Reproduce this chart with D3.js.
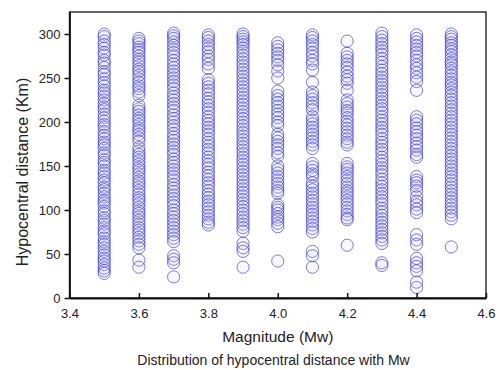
<!DOCTYPE html>
<html>
<head>
<meta charset="utf-8">
<script src="https://cdn.jsdelivr.net/npm/d3@7/dist/d3.min.js"></script>
<style>
  body { margin: 0; background: #fff; }
  svg text { font-family: "Liberation Sans", Arial, sans-serif; fill: #222; }
</style>
</head>
<body>
<div id="chart"></div>
<script>
// magnitude columns
const magnitudes = [3.5, 3.6, 3.7, 3.8, 3.9, 4.0, 4.1, 4.2, 4.3, 4.4, 4.5];

// hypocentral distances (km) read per magnitude
const dist35 = [300, 297, 292, 288, 284, 279, 276, 270, 267, 262, 257, 254, 249, 245, 241, 236, 233, 229, 225, 221, 217, 214, 209, 205, 201, 197, 194, 189, 185, 181, 177, 174, 170, 165, 162, 157, 154, 150, 145, 142, 138, 134, 131, 126, 123, 119, 115, 111, 108, 104, 99, 96, 91, 88, 84, 80, 76, 73, 68, 64, 61, 57, 53, 49, 45, 42, 38, 34, 31, 28];
const dist36 = [295, 292, 289, 285, 282, 279, 275, 271, 268, 264, 260, 257, 253, 249, 245, 241, 238, 234, 230, 219, 215, 212, 208, 204, 201, 197, 193, 190, 186, 182, 178, 171, 167, 163, 160, 156, 152, 148, 145, 141, 137, 133, 130, 126, 122, 118, 114, 111, 107, 103, 99, 96, 92, 88, 84, 80, 77, 73, 69, 65, 61, 57, 43, 35];
const dist37 = [301, 298, 295, 291, 287, 283, 279, 275, 270, 266, 262, 258, 254, 250, 246, 242, 238, 233, 229, 225, 221, 217, 213, 208, 204, 200, 196, 192, 187, 183, 179, 175, 171, 167, 163, 158, 154, 150, 146, 142, 138, 134, 129, 125, 121, 117, 113, 109, 105, 100, 96, 92, 88, 84, 80, 76, 72, 68, 64, 48, 44, 40, 24];
const dist38 = [299, 296, 292, 288, 284, 280, 275, 271, 266, 261, 248, 244, 240, 236, 232, 227, 223, 219, 215, 211, 206, 202, 198, 194, 190, 186, 181, 177, 173, 169, 165, 160, 156, 152, 148, 143, 139, 135, 131, 127, 122, 118, 114, 110, 106, 102, 98, 94, 90, 86, 83];
const dist39 = [300, 297, 294, 291, 288, 284, 280, 276, 272, 268, 264, 260, 256, 252, 248, 244, 240, 236, 232, 228, 224, 220, 216, 212, 208, 204, 200, 196, 192, 188, 184, 180, 176, 172, 168, 164, 160, 156, 152, 148, 144, 140, 136, 132, 128, 124, 120, 116, 112, 108, 104, 100, 96, 92, 88, 84, 80, 76, 62, 57, 53, 35];
const dist40 = [290, 286, 282, 278, 274, 270, 265, 258, 250, 235, 230, 226, 222, 218, 213, 209, 205, 200, 196, 186, 182, 178, 174, 170, 165, 161, 150, 146, 142, 138, 134, 130, 126, 122, 119, 106, 103, 100, 96, 92, 89, 85, 81, 42];
const dist41 = [299, 296, 292, 288, 284, 279, 275, 270, 266, 259, 245, 234, 230, 226, 222, 218, 214, 206, 202, 198, 194, 190, 186, 182, 178, 174, 170, 153, 149, 145, 141, 138, 131, 127, 123, 119, 115, 111, 107, 103, 99, 95, 91, 87, 83, 79, 75, 53, 48, 35];
const dist42 = [292, 278, 274, 270, 266, 262, 257, 252, 248, 244, 236, 225, 221, 217, 213, 210, 205, 201, 197, 193, 189, 185, 181, 177, 174, 153, 149, 146, 142, 138, 134, 130, 126, 122, 119, 115, 111, 107, 103, 99, 95, 91, 89, 60];
const dist43 = [301, 297, 293, 289, 285, 281, 277, 272, 268, 263, 259, 255, 251, 247, 243, 239, 235, 231, 227, 223, 219, 215, 211, 206, 202, 198, 194, 190, 186, 181, 177, 173, 169, 165, 160, 156, 152, 148, 144, 140, 135, 131, 127, 123, 119, 115, 111, 107, 102, 98, 94, 90, 86, 82, 78, 74, 70, 66, 62, 40, 37];
const dist44 = [299, 295, 291, 287, 283, 279, 275, 270, 265, 261, 256, 251, 246, 236, 206, 202, 198, 193, 189, 185, 181, 176, 172, 168, 163, 160, 138, 134, 131, 127, 122, 115, 110, 106, 101, 97, 72, 66, 61, 45, 40, 36, 31, 18, 12];
const dist45 = [300, 297, 294, 290, 287, 283, 280, 276, 272, 268, 265, 261, 257, 253, 249, 245, 242, 238, 234, 230, 226, 222, 218, 214, 210, 206, 202, 198, 194, 190, 186, 182, 178, 174, 170, 166, 162, 158, 154, 150, 146, 142, 138, 134, 130, 126, 122, 118, 114, 110, 106, 102, 98, 94, 90, 58];

const distances = [dist35, dist36, dist37, dist38, dist39, dist40, dist41, dist42, dist43, dist44, dist45];

const xTicks = [3.4, 3.6, 3.8, 4.0, 4.2, 4.4, 4.6];
const yTicks = [0, 50, 100, 150, 200, 250, 300];

const width = 501, height = 370;
const margin = { top: 12, right: 15, bottom: 72, left: 69.5 };

const points = [];
magnitudes.forEach((m, i) => distances[i].forEach(d => points.push({ m: m, d: d })));

const x = d3.scaleLinear([3.4, 4.6], [margin.left, width - margin.right]);
const y = d3.scaleLinear([0, 325], [height - margin.bottom, margin.top]);

const svg = d3.select('#chart')
  .append('svg')
  .attr('width', width)
  .attr('height', height)
  .attr('viewBox', `0 0 ${width} ${height}`);

// points
svg.append('g')
  .selectAll('circle')
  .data(points)
  .enter()
  .append('circle')
  .attr('cx', p => x(p.m))
  .attr('cy', p => y(p.d))
  .attr('r', 6.1)
  .attr('fill', 'rgba(200,200,240,0.12)')
  .attr('stroke', '#2626d0')
  .attr('stroke-opacity', 0.6)
  .attr('stroke-width', 1);

// frame
svg.append('rect')
  .attr('x', x(3.4))
  .attr('y', y(325))
  .attr('width', x(4.6) - x(3.4))
  .attr('height', y(0) - y(325))
  .attr('fill', 'none')
  .attr('stroke', '#222')
  .attr('stroke-width', 1.4);

const xAxis = svg.append('g')
  .attr('transform', `translate(0,${y(0)})`)
  .call(d3.axisBottom(x).tickValues(xTicks).tickFormat(d3.format('.1f'))
    .tickSize(-5).tickSizeOuter(0).tickPadding(11));

const yAxis = svg.append('g')
  .attr('transform', `translate(${x(3.4)},0)`)
  .call(d3.axisLeft(y).tickValues(yTicks).tickSize(5).tickSizeOuter(0).tickPadding(4));

[xAxis, yAxis].forEach(a => {
  a.select('.domain').attr('stroke', '#111').attr('stroke-width', 1.8);
  a.selectAll('.tick line').attr('stroke', '#111').attr('stroke-width', 1.5);
  a.selectAll('.tick text')
    .attr('font-family', '"Liberation Sans", Arial, sans-serif')
    .attr('font-size', 13)
    .attr('fill', '#222');
});

// labels
svg.append('text')
  .attr('x', (x(3.4) + x(4.6)) / 2)
  .attr('y', 342)
  .attr('text-anchor', 'middle')
  .attr('font-size', 15.5)
  .text('Magnitude (Mw)');

svg.append('text')
  .attr('transform', `translate(28,172) rotate(-90)`)
  .attr('text-anchor', 'middle')
  .attr('font-size', 16)
  .text('Hypocentral distance (Km)');

svg.append('text')
  .attr('x', 273.5)
  .attr('y', 365)
  .attr('text-anchor', 'middle')
  .attr('font-size', 14)
  .text('Distribution of hypocentral distance with Mw');
</script>
</body>
</html>
